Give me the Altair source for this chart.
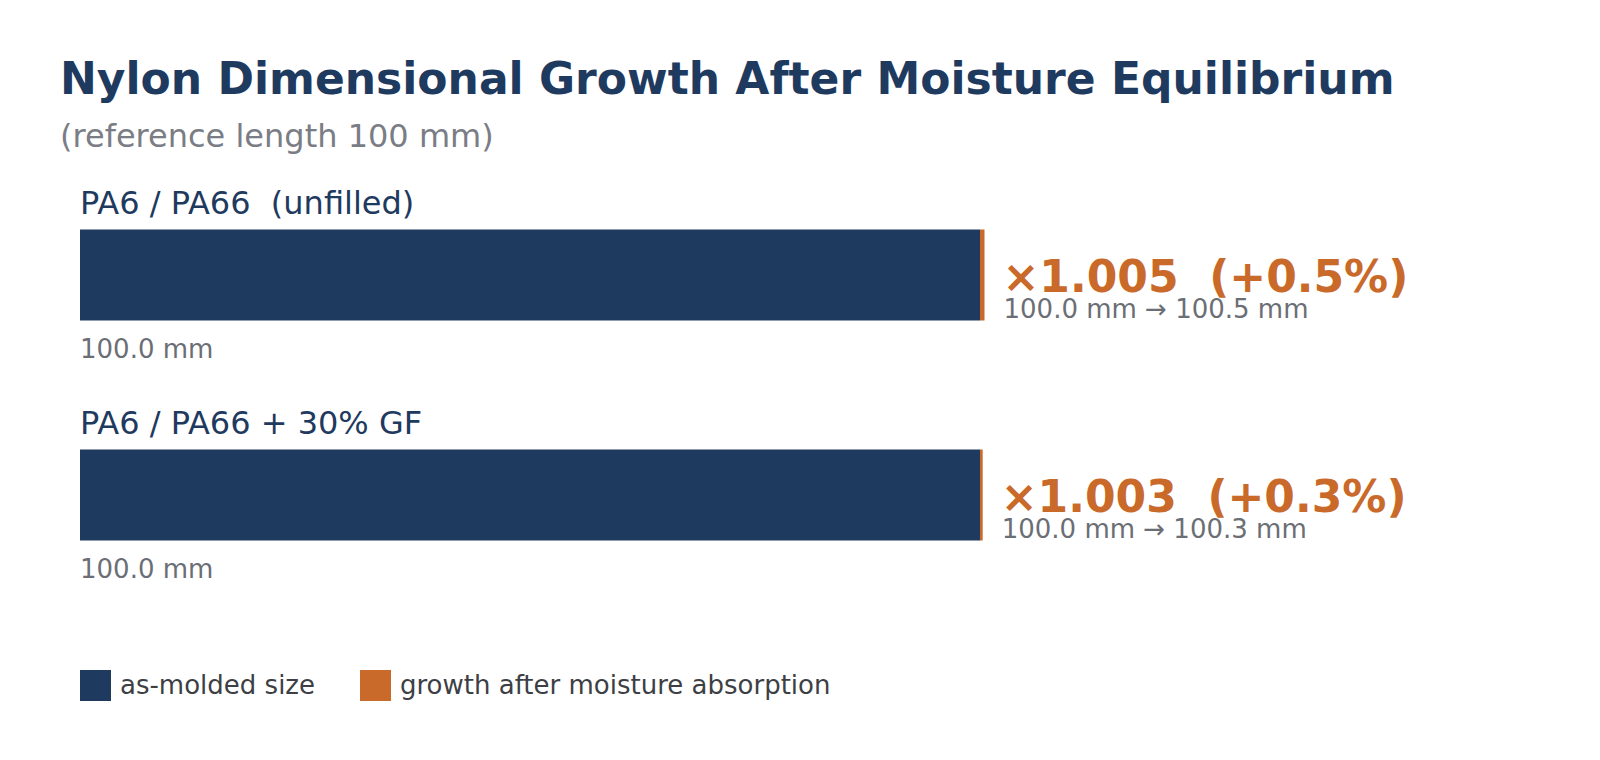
import altair as alt
import pandas as pd

# values
materials = ['PA6 / PA66\u00a0 (unfilled)', 'PA6 / PA66 + 30% GF']
base_mm = [100.0, 100.0]
growth_pct = [0.5, 0.3]
segments = ['as-molded size', 'growth after moisture absorption']
seg_colors = ['#1f3a5f', '#c9692a']

navy = '#1f3a5f'
orange = '#c9692a'
gray = '#6b6e75'

rows = []
labels = []
for m, b, g in zip(materials, base_mm, growth_pct):
    grown = b * (1 + g / 100)
    rows.append({'material': m, 'segment': segments[0], 'value': b, 'order': 0})
    rows.append({'material': m, 'segment': segments[1], 'value': grown - b, 'order': 1})
    labels.append({'material': m, 'base': b, 'total': grown,
                   'factor': f'\u00d7{1 + g / 100:.3f}\u00a0 (+{g}%)',
                   'change': f'{b:.1f} mm \u2192 {grown:.1f} mm',
                   'base_lbl': f'{b:.1f} mm',
                   'zero': 0})
bars_df = pd.DataFrame(rows)
lbl_df = pd.DataFrame(labels)

x_scale = alt.Scale(domain=[0, 150], nice=False, zero=True)
y_scale = alt.Scale(domain=materials, paddingInner=0, paddingOuter=0)
y_enc = alt.Y('material:N', scale=y_scale, axis=None)

bars = alt.Chart(bars_df).mark_bar(size=91).encode(
    x=alt.X('value:Q', stack='zero', scale=x_scale, axis=None),
    y=y_enc,
    color=alt.Color('segment:N',
                    scale=alt.Scale(domain=segments, range=seg_colors),
                    legend=alt.Legend(orient='none', direction='horizontal',
                                      legendX=0, legendY=505, title=None,
                                      symbolType='square', symbolSize=961,
                                      symbolStrokeWidth=0, symbolOpacity=1,
                                      labelFontSize=26, labelColor='#3d3f45',
                                      labelFont='DejaVu Sans', labelOffset=9,
                                      labelLimit=0, columnPadding=45)),
    order=alt.Order('order:Q', sort='ascending'),
)

base = alt.Chart(lbl_df)

cat_text = base.mark_text(align='left', baseline='alphabetic', dy=-61,
                          fontSize=32, color=navy, font='DejaVu Sans').encode(
    x=alt.X('zero:Q', scale=x_scale), y=y_enc, text='material:N')

base_text = base.mark_text(align='left', baseline='alphabetic', dy=83,
                           fontSize=26, color=gray, font='DejaVu Sans').encode(
    x=alt.X('zero:Q', scale=x_scale), y=y_enc, text='base_lbl:N')

factor_text = base.mark_text(align='left', baseline='alphabetic', dx=18, dy=17,
                             fontSize=44, fontWeight='bold', color=orange,
                             font='DejaVu Sans').encode(
    x=alt.X('total:Q', scale=x_scale), y=y_enc, text='factor:N')

change_text = base.mark_text(align='left', baseline='alphabetic', dx=19, dy=43,
                             fontSize=26, color=gray, font='DejaVu Sans').encode(
    x=alt.X('total:Q', scale=x_scale), y=y_enc, text='change:N')

chart = (bars + cat_text + base_text + factor_text + change_text).properties(
    width=1350, height=440,
    autosize=alt.AutoSizeParams(type='none'),
    padding={'left': 72, 'top': 157, 'right': 162, 'bottom': 147},
    title=alt.TitleParams(
        text='Nylon Dimensional Growth After Moisture Equilibrium',
        subtitle='(reference length 100 mm)',
        anchor='start', frame='group', dx=-20, offset=12,
        font='DejaVu Sans', fontSize=44, fontWeight='bold', color=navy,
        subtitleFont='DejaVu Sans', subtitleFontSize=32,
        subtitleColor='#7a7d85', subtitlePadding=19),
).configure_view(strokeWidth=0)

chart.save('out.html', embed_options={'renderer': 'svg', 'actions': False})
